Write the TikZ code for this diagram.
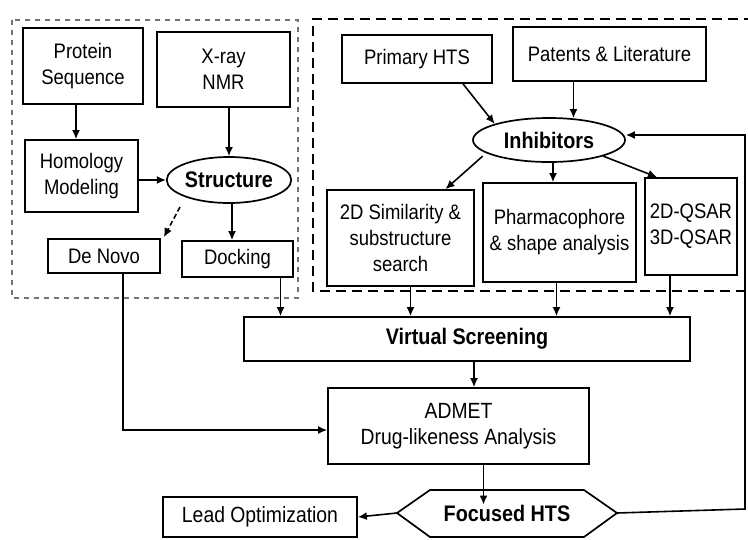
\documentclass[tikz,border=0pt]{standalone}
\usepackage{fontspec}
\setmainfont{Liberation Sans}[FakeStretch=0.88]
\usetikzlibrary{arrows.meta,shapes.geometric}
\begin{document}
\begin{tikzpicture}[x=1pt,y=-1pt,
  lbl/.style={font=\fontsize{21}{26}\selectfont, align=center},
  lblb/.style={font=\fontsize{22.5}{26}\selectfont\bfseries, align=center},
  lbll/.style={font=\fontsize{22}{26}\selectfont, align=center},
  box/.style={draw, line width=1.7pt, inner sep=0pt, lbl},
  oval/.style={ellipse, draw, line width=1.7pt, inner sep=0pt, lblb},
  arr/.style={-{Latex[length=9pt,width=8pt]}, line width=1.6pt},
  ldash/.style={draw=black!55, line width=1.1pt, dash pattern=on 5pt off 5pt},
  rdash/.style={draw=black, line width=1.8pt, dash pattern=on 10pt off 6pt}]
\useasboundingbox (0,0) rectangle (748,539);
\fill[white] (0,0) rectangle (748,539);
\clip (0,0) rectangle (748,539);

% group frames
\draw[ldash] (12,20) rectangle (298,298);
\draw[rdash] (770,19) -- (313,19) -- (313,291) -- (770,291);

% left group
\node[box, minimum width=120pt, minimum height=76pt] (prot) at (83,66) {Protein\\Sequence};
\node[box, minimum width=133pt, minimum height=75pt] (xray) at (223.5,69.5) {X-ray\\NMR};
\node[box, minimum width=113pt, minimum height=72pt] (homol) at (81.5,176) {Homology\\Modeling};
\node[oval, minimum width=122pt, minimum height=46pt] (struct) at (229,180) {Structure};
\node[box, minimum width=112pt, minimum height=34pt] (denovo) at (104,256) {De Novo};
\node[box, minimum width=111pt, minimum height=36pt] (dock) at (237.5,259) {Docking};

% right group
\node[box, minimum width=150pt, minimum height=48pt] (prim) at (417,59) {Primary HTS};
\node[box, minimum width=193pt, minimum height=54pt] (pat) at (609.5,54) {Patents \& Literature};
\node[oval, minimum width=152pt, minimum height=44pt] (inhib) at (549,140) {Inhibitors};
\node[box, minimum width=147pt, minimum height=96pt] (sim) at (400.5,238) {2D Similarity \&\\substructure\\search};
\node[box, minimum width=153pt, minimum height=99pt] (pharm) at (559.5,232.5) {Pharmacophore\\\& shape analysis};
\node[box, minimum width=92pt, minimum height=97pt] (qsar) at (691,226.5) {2D-QSAR\\3D-QSAR};

% lower part
\node[box, lblb, minimum width=446pt, minimum height=44pt] (vs) at (467,339) {Virtual Screening};
\node[box, lbll, minimum width=261pt, minimum height=76pt] (admet) at (458.5,426) {ADMET\\Drug-likeness Analysis};
\node[lblb, inner sep=0pt] (focus) at (507,513) {Focused HTS};
\coordinate (fl) at (397,513);
\coordinate (fr) at (617,513);
\draw[line width=1.7pt] (fl) -- (430,490) -- (584,490) -- (fr) -- (584,537) -- (430,537) -- cycle;
\node[box, lbll, minimum width=194pt, minimum height=40pt] (lead) at (260,517) {Lead Optimization};

% connectors, left group
\draw[arr] ([xshift=-7pt]prot.south) -- ([xshift=-7pt]prot.south |- homol.north);
\draw[arr] (struct.north |- xray.south) -- (struct.north);
\draw[arr] (homol.east |- struct.west) -- (struct.west);
\draw[arr, dash pattern=on 5pt off 3pt] ([xshift=-49pt,yshift=-27pt]struct.center) -- ([xshift=3pt,yshift=1pt]denovo.north east);
\draw[arr] ([xshift=3pt]struct.south) -- ([xshift=3pt]struct.south |- dock.north);
\draw[arr] ([xshift=19pt]denovo.south) |- ([yshift=-4pt]admet.west);
\draw[arr] ([xshift=43pt]dock.south) -- ([xshift=43pt]dock.south |- vs.north);

% connectors, right group
\draw[arr] ([xshift=46pt]prim.south) -- (inhib.north west);
\draw[arr] ([xshift=-36pt]pat.south) -- ([xshift=-36pt,yshift=-1pt]pat.south |- inhib.north);
\draw[arr] ([xshift=-12pt]inhib.south west) -- ([xshift=45pt]sim.north);
\draw[arr] ([xshift=4pt]inhib.south) -- ([xshift=4pt]inhib.south |- pharm.north);
\draw[arr] (inhib.south east) -- ([xshift=-34pt]qsar.north);
\draw[arr] ([xshift=10pt]sim.south) -- ([xshift=10pt]sim.south |- vs.north);
\draw[arr] ([xshift=-3pt]pharm.south) -- ([xshift=-3pt]pharm.south |- vs.north);
\draw[arr] ([xshift=-21pt]qsar.south) -- ([xshift=-21pt]qsar.south |- vs.north);

% lower connectors
\draw[arr] ([xshift=7pt]vs.south) -- ([xshift=7pt]vs.south |- admet.north);
\draw[arr] ([xshift=25pt]admet.south) -- ([xshift=25pt]admet.south |- focus.north);
\draw[arr] (fl) -- (lead.east);
\coordinate (fbb) at (745,509);
\coordinate (fbt) at (745,135);
\draw[arr] (fr) -- (fbb) -- (fbt) -- ([yshift=5pt]inhib.east);
\end{tikzpicture}
\end{document}
